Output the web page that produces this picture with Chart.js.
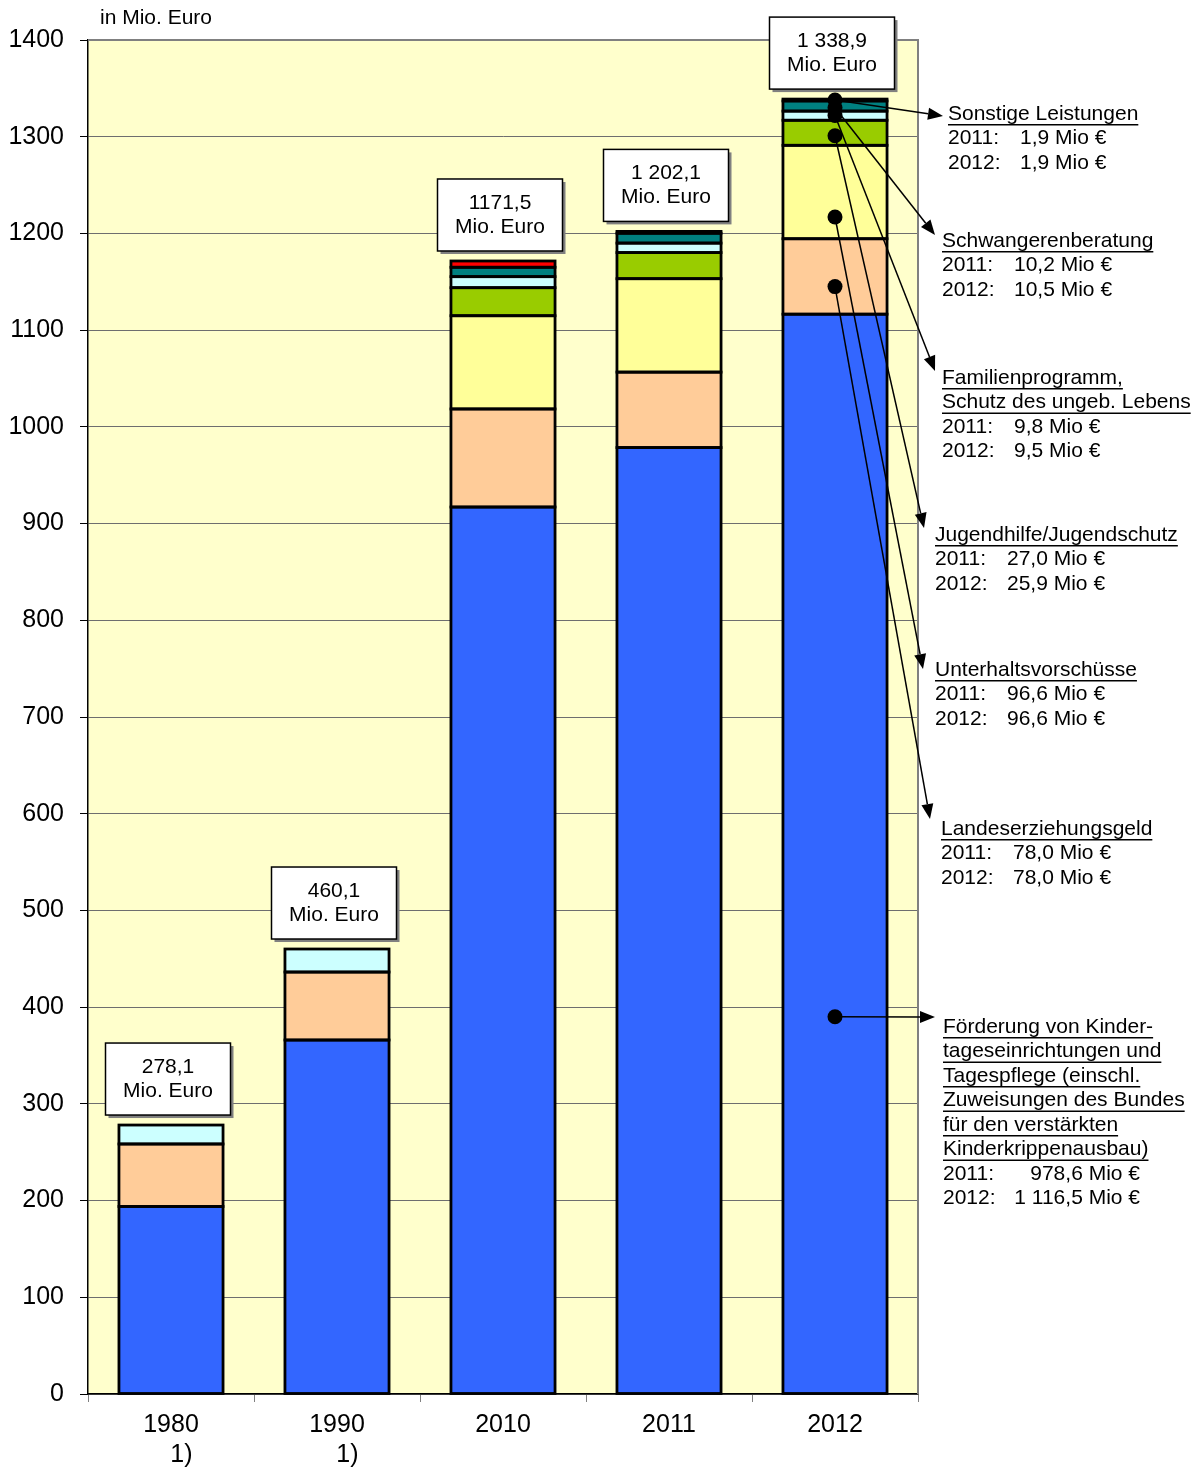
<!DOCTYPE html>
<html>
<head>
<meta charset="utf-8">
<script src="https://cdn.jsdelivr.net/npm/chart.js@4.4.0/dist/chart.umd.min.js"></script>
<style>
    body { margin: 0; background: #fff; }
    canvas { display: block; }
</style>
</head>
<body>
<canvas id="chart" width="1202" height="1470"></canvas>
<script>
// categories and totals
const years = [['1980', '   1)'], ['1990', '   1)'], '2010', '2011', '2012'];
const totalLabels = ['278,1', '460,1', '1171,5', '1 202,1', '1 338,9'];
const yTicks = [0, 100, 200, 300, 400, 500, 600, 700, 800, 900, 1000, 1100, 1200, 1300, 1400];

// series, bottom to top (Mio. Euro)
const kita = [193.9, 366.0, 917.1, 978.6, 1116.5];
const erziehungsgeld = [64.6, 70.3, 101.4, 78.0, 78.0];
const unterhalt = [null, null, 96.4, 96.6, 96.6];
const jugendhilfe = [null, null, 29.0, 27.0, 25.9];
const familienprogramm = [19.6, 23.8, 11.4, 9.8, 9.5];
const schwangeren = [null, null, 9.7, 10.2, 10.5];
const sonstige = [null, null, 6.5, 1.9, 1.9];

// side notes, top to bottom
const noteTitles = [
    ['Sonstige Leistungen'],
    ['Schwangerenberatung'],
    ['Familienprogramm,', 'Schutz des ungeb. Lebens'],
    ['Jugendhilfe/Jugendschutz'],
    ['Unterhaltsvorschüsse'],
    ['Landeserziehungsgeld'],
    ['Förderung von Kinder-', 'tageseinrichtungen und', 'Tagespflege (einschl.', 'Zuweisungen des Bundes', 'für den verstärkten', 'Kinderkrippenausbau)']
];
const noteSeries = [sonstige, schwangeren, familienprogramm, jugendhilfe, unterhalt, erziehungsgeld, kita];
const noteDotValues = [1338, 1330, 1322, 1301, 1217, 1145, 390];

const FONT = 'Arial, "Liberation Sans", sans-serif';

// where the notes sit on the page
const noteLayout = [
    { x: 948, y: 114, tipX: 943, tipY: 116 },
    { x: 942, y: 241, tipX: 935, tipY: 235 },
    { x: 942, y: 378, tipX: 935, tipY: 371 },
    { x: 935, y: 535, tipX: 924, tipY: 528 },
    { x: 935, y: 670, tipX: 923, tipY: 669 },
    { x: 941, y: 829, tipX: 930, tipY: 819 },
    { x: 943, y: 1027, tipX: 935, tipY: 1017, valueRight: 197 }
];

function formatMio(v) {
    const parts = v.toFixed(1).split('.');
    const whole = parts[0].replace(/\B(?=(\d{3})+(?!\d))/g, ' ');
    return whole + ',' + parts[1];
}

const plotBackground = {
    id: 'plotBackground',
    beforeDraw(chart) {
        const { ctx, chartArea: a } = chart;
        ctx.save();
        ctx.fillStyle = '#FFFFCC';
        ctx.fillRect(a.left, a.top, a.right - a.left, a.bottom - a.top);
        ctx.restore();
    },
    beforeDatasetsDraw(chart) {
        const { ctx, chartArea: a } = chart;
        ctx.save();
        ctx.strokeStyle = '#808080';
        ctx.lineWidth = 2;
        ctx.beginPath();
        ctx.moveTo(a.left, a.top);
        ctx.lineTo(a.right, a.top);
        ctx.lineTo(a.right, a.bottom);
        ctx.stroke();
        ctx.restore();
    },
    // even black outline round every segment
    afterDatasetsDraw(chart) {
        const ctx = chart.ctx;
        ctx.save();
        ctx.strokeStyle = '#000';
        ctx.lineWidth = 2.8;
        chart.data.datasets.forEach((ds, di) => {
            chart.getDatasetMeta(di).data.forEach((bar, i) => {
                if (ds.data[i] == null) return;
                const p = bar.getProps(['x', 'y', 'base', 'width'], true);
                ctx.strokeRect(p.x - p.width / 2, p.y, p.width, p.base - p.y);
            });
        });
        ctx.restore();
    }
};

const annotations = {
    id: 'annotations',
    afterDraw(chart) {
        const ctx = chart.ctx;
        const xScale = chart.scales.x;
        const yScale = chart.scales.y;
        ctx.save();
        ctx.font = '21px ' + FONT;
        ctx.textBaseline = 'middle';
        ctx.fillStyle = '#000';

        // unit
        ctx.textAlign = 'left';
        ctx.fillText('in Mio. Euro', 100, 18);

        // total boxes
        ctx.textAlign = 'center';
        totalLabels.forEach((label, i) => {
            let total = 0;
            chart.data.datasets.forEach(ds => { total += ds.data[i] || 0; });
            const cx = xScale.getPixelForValue(i) - 3;
            const bottom = yScale.getPixelForValue(total) - 10;
            const w = 125, h = 72;
            ctx.fillStyle = '#808080';
            ctx.fillRect(cx - w / 2 + 3, bottom - h + 3, w, h);
            ctx.fillStyle = '#fff';
            ctx.fillRect(cx - w / 2, bottom - h, w, h);
            ctx.strokeStyle = '#000';
            ctx.lineWidth = 1.5;
            ctx.strokeRect(cx - w / 2, bottom - h, w, h);
            ctx.fillStyle = '#000';
            ctx.fillText(label, cx, bottom - h / 2 - 12);
            ctx.fillText('Mio. Euro', cx, bottom - h / 2 + 12);
        });

        // notes with dots and arrows
        const dotX = xScale.getPixelForValue(4);
        ctx.textAlign = 'left';
        noteTitles.forEach((title, i) => {
            const lay = noteLayout[i];
            const dotY = yScale.getPixelForValue(noteDotValues[i]);

            // arrow
            ctx.strokeStyle = '#000';
            ctx.fillStyle = '#000';
            ctx.lineWidth = 1.5;
            const ang = Math.atan2(lay.tipY - dotY, lay.tipX - dotX);
            const headLen = 15, headW = 6;
            const baseX = lay.tipX - headLen * Math.cos(ang);
            const baseY = lay.tipY - headLen * Math.sin(ang);
            ctx.beginPath();
            ctx.moveTo(dotX, dotY);
            ctx.lineTo(baseX, baseY);
            ctx.stroke();
            ctx.beginPath();
            ctx.moveTo(lay.tipX, lay.tipY);
            ctx.lineTo(baseX + headW * Math.sin(ang), baseY - headW * Math.cos(ang));
            ctx.lineTo(baseX - headW * Math.sin(ang), baseY + headW * Math.cos(ang));
            ctx.closePath();
            ctx.fill();

            // dot
            ctx.beginPath();
            ctx.arc(dotX, dotY, 7.5, 0, Math.PI * 2);
            ctx.fill();

            // text
            let y = lay.y;
            title.forEach(line => {
                ctx.fillText(line, lay.x, y);
                const w = ctx.measureText(line).width;
                ctx.fillRect(lay.x, y + 10, w, 1.5);
                y += 24.5;
            });
            const series = noteSeries[i];
            [['2011:', series[3]], ['2012:', series[4]]].forEach(row => {
                ctx.textAlign = 'left';
                ctx.fillText(row[0], lay.x, y);
                const txt = formatMio(row[1]) + ' Mio €';
                if (lay.valueRight) {
                    ctx.textAlign = 'right';
                    ctx.fillText(txt, lay.x + lay.valueRight, y);
                } else {
                    ctx.fillText(txt, lay.x + 72, y);
                }
                y += 24.5;
            });
            ctx.textAlign = 'left';
        });
        ctx.restore();
    }
};

function barSet(label, data, color) {
    return {
        label: label,
        data: data,
        backgroundColor: color,
        borderWidth: 0,
        categoryPercentage: 1,
        barPercentage: 0.627
    };
}

const ctx = document.getElementById('chart').getContext('2d');
const chart = new Chart(ctx, {
    type: 'bar',
    data: {
        labels: years,
        datasets: [
            barSet('Förderung von Kindertageseinrichtungen', kita, '#3366FF'),
            barSet('Landeserziehungsgeld', erziehungsgeld, '#FFCC99'),
            barSet('Unterhaltsvorschüsse', unterhalt, '#FFFF99'),
            barSet('Jugendhilfe/Jugendschutz', jugendhilfe, '#99CC00'),
            barSet('Familienprogramm', familienprogramm, '#CCFFFF'),
            barSet('Schwangerenberatung', schwangeren, '#008080'),
            barSet('Sonstige Leistungen', sonstige, '#FF0000')
        ]
    },
    options: {
        responsive: false,
        animation: false,
        devicePixelRatio: 1,
        layout: { padding: { top: 40, right: 284, left: 0, bottom: 0 } },
        plugins: {
            legend: { display: false },
            tooltip: { enabled: false }
        },
        scales: {
            x: {
                stacked: true,
                afterFit: s => { s.height = 76; },
                border: { color: '#000', width: 1.5 },
                grid: {
                    offset: true,
                    drawOnChartArea: false,
                    drawTicks: true,
                    tickLength: 8,
                    tickColor: '#808080'
                },
                ticks: {
                    color: '#000',
                    padding: 8,
                    maxRotation: 0,
                    font: { family: FONT, size: 25, lineHeight: 1.2 }
                }
            },
            y: {
                stacked: true,
                min: 0,
                max: 1400,
                afterFit: s => { s.width = 88; },
                afterBuildTicks: s => { s.ticks = yTicks.map(v => ({ value: v })); },
                border: { color: '#000', width: 1.5 },
                grid: {
                    color: '#6e6e6e',
                    lineWidth: 1,
                    borderDash: [2, 2],
                    tickLength: 8,
                    tickColor: '#000',
                    tickBorderDash: []
                },
                ticks: {
                    color: '#000',
                    padding: 16,
                    font: { family: FONT, size: 25 },
                    callback: v => String(v)
                }
            }
        }
    },
    plugins: [plotBackground, annotations]
});
</script>
</body>
</html>
